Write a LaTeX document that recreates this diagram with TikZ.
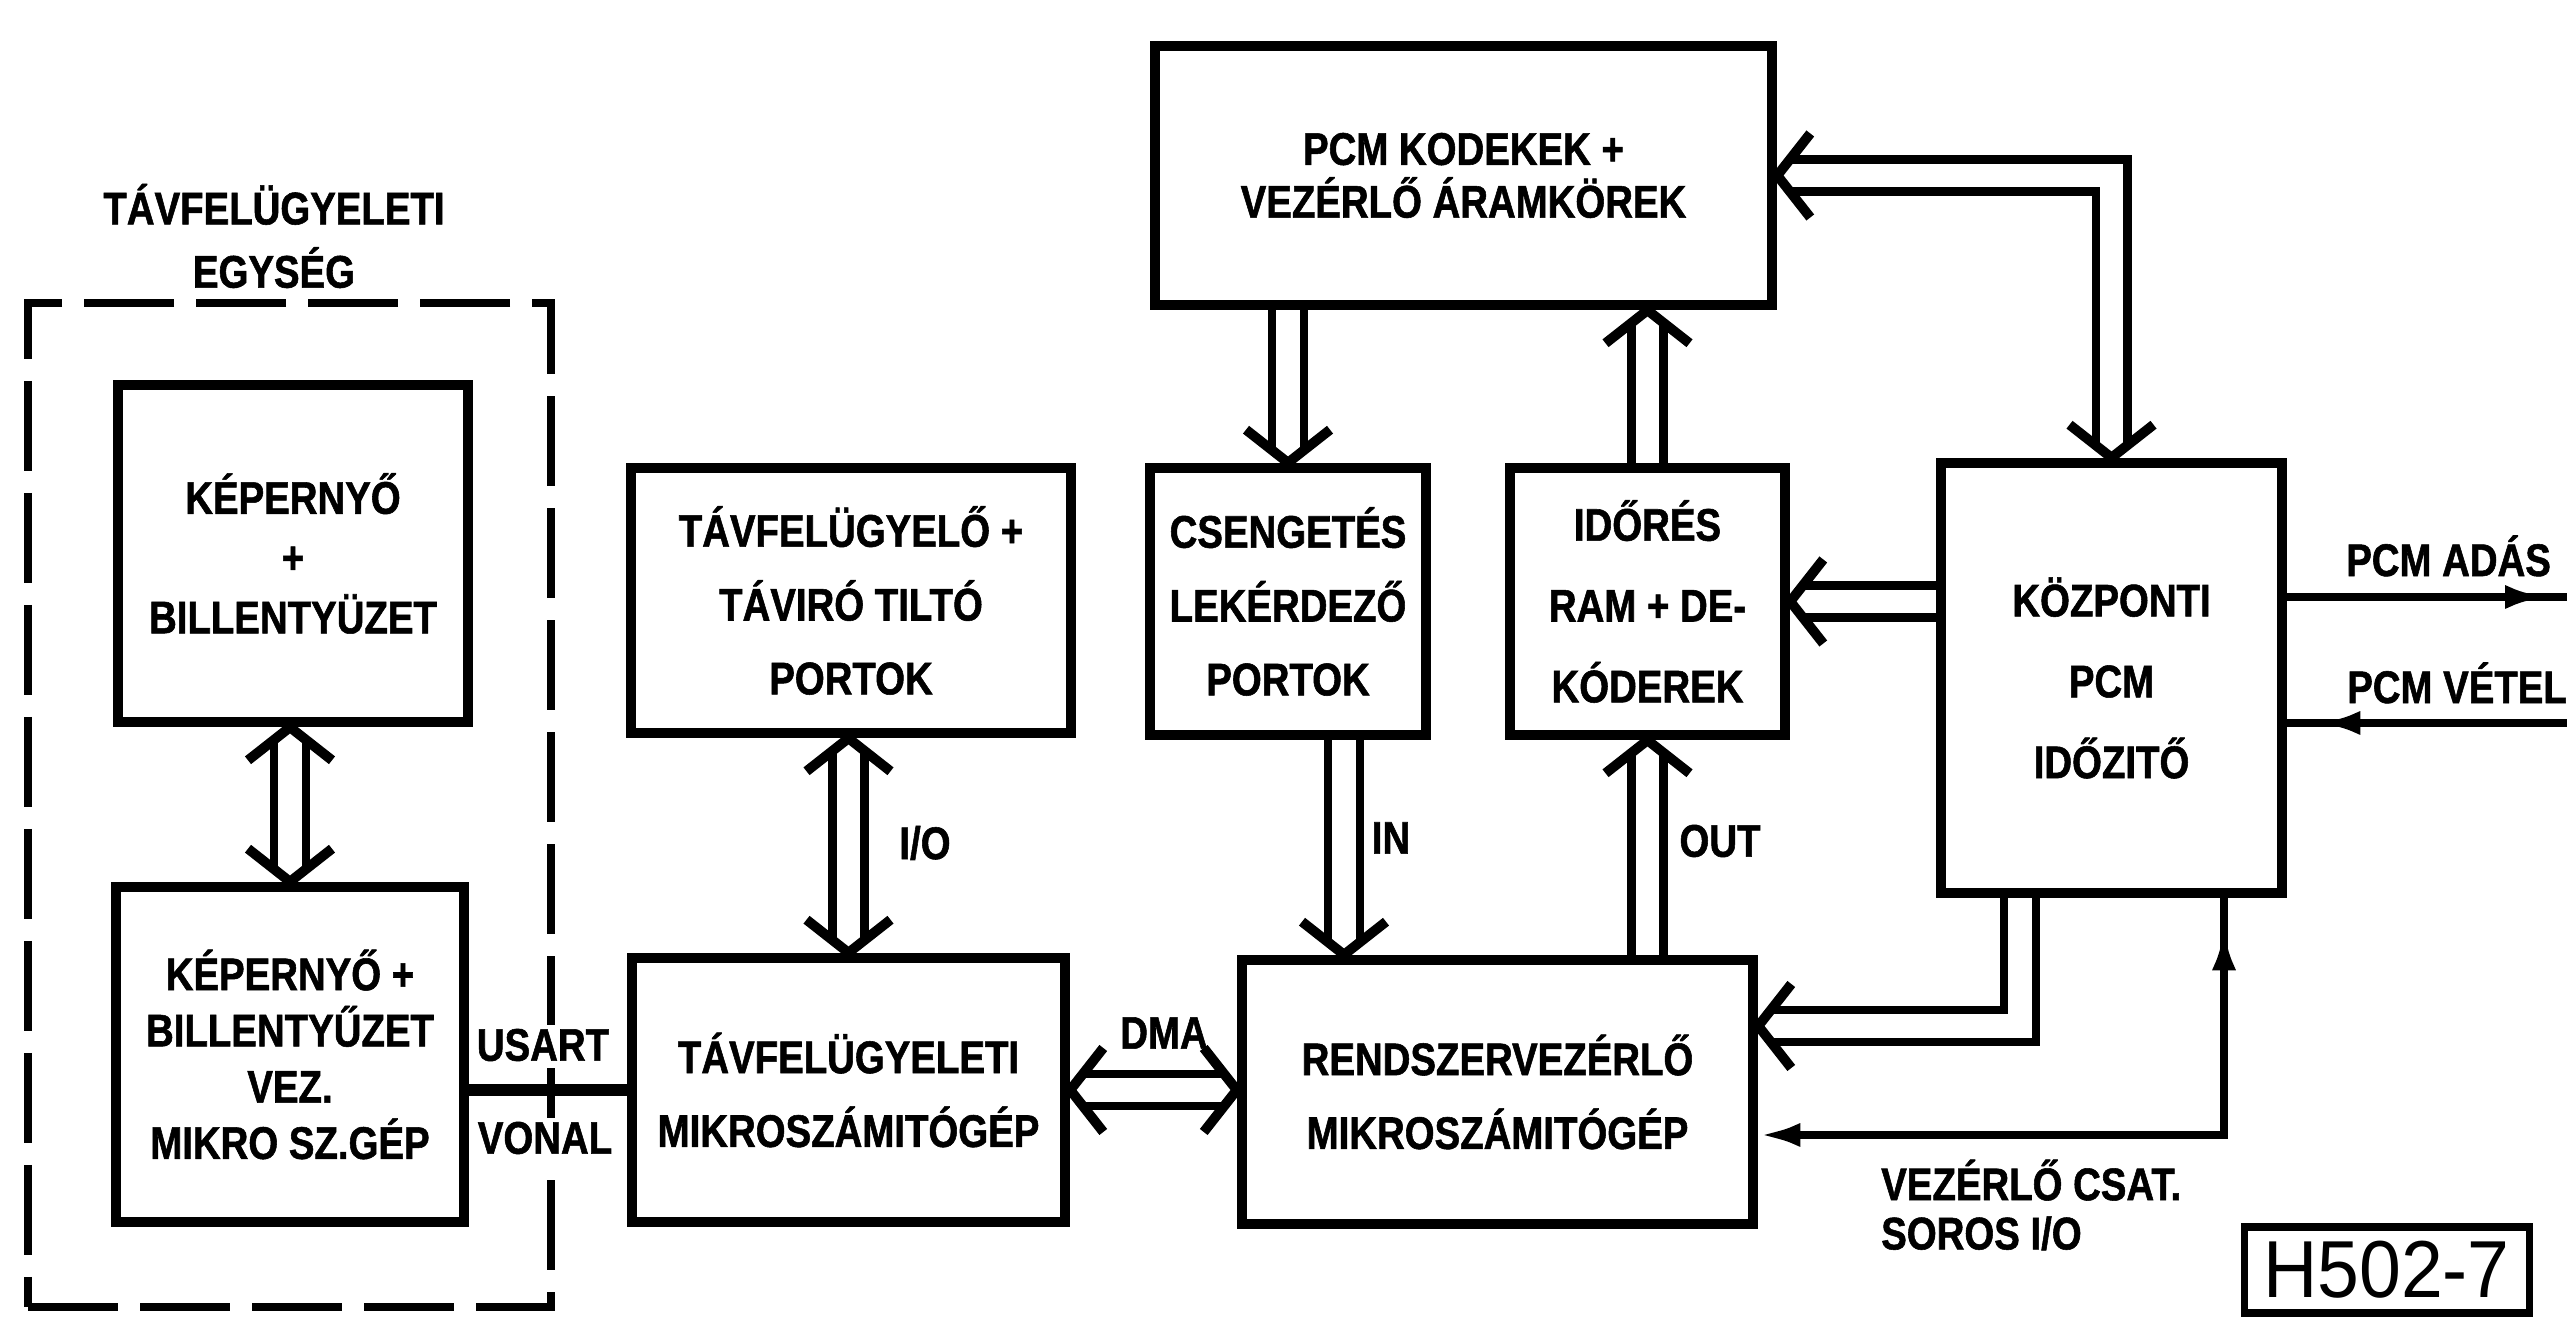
\documentclass[tikz,border=0pt]{standalone}
\usepackage{fontspec}
\setmainfont{Liberation Sans}[FakeStretch=0.84, BoldFeatures={FakeBold=1.2}]
\newfontfamily\tagfont{Liberation Sans}[FakeStretch=0.93]
\usetikzlibrary{positioning,arrows.meta,decorations.markings}

\tikzset{
  blokk/.style={draw, line width=3pt, align=center, inner sep=0pt,
    font=\bfseries\fontsize{13}{#1}\selectfont},
  blokk/.default=21pt,
  felirat/.style={align=center, inner sep=1pt,
    font=\bfseries\fontsize{13}{#1}\selectfont},
  felirat/.default=18pt,
  keret/.style={draw, line width=2.4pt, dash pattern=on 0.9cm off 0.22cm},
  busz/.style={double, line width=2.3pt, double distance=6.8pt},
  horog/.style={line width=2.8pt, shorten >=0pt, shorten <=0pt},
  vegen/.style={shorten >=0.13cm, postaction={decorate, decoration={markings,
      mark=at position 1 with {\draw[horog] (-0.33,0.42) -- (0,0) -- (-0.33,-0.42);}}}},
  elejen/.style={shorten <=0.13cm, postaction={decorate, decoration={markings,
      mark=at position 0 with {\draw[horog] (0.33,0.42) -- (0,0) -- (0.33,-0.42);}}}},
  jel/.style={line width=2.3pt},
  jelhegy/.style={postaction={decorate, decoration={markings,
      mark=at position #1 with {\arrow{Latex[length=0.42cm, width=0.24cm]}}}}},
  jelhegyvissza/.style={postaction={decorate, decoration={markings,
      mark=at position #1 with {\arrowreversed{Latex[length=0.42cm, width=0.24cm]}}}}},
}

\begin{document}
\begin{tikzpicture}
  \useasboundingbox (0,0) rectangle (25.67,13.2);

  % Remote supervision unit
  \node[keret, minimum width=5.23cm, minimum height=10.04cm] (egyseg) at (2.895,5.15) {};
  \node[felirat] (egysegcim) at (2.74,10.84) {TÁVFELÜGYELETI\\EGYSÉG};

  % Blocks
  \node[blokk=17pt, minimum width=3.50cm, minimum height=3.37cm] (kep) at (2.93,7.665) {KÉPERNYŐ\\+\\BILLENTYÜZET};
  \node[blokk=16pt, minimum width=3.48cm, minimum height=3.35cm] (kepvez) at (2.90,2.655) {KÉPERNYŐ +\\BILLENTYŰZET\\VEZ.\\MIKRO SZ.GÉP};
  \node[blokk, minimum width=4.40cm, minimum height=2.65cm] (tavport) at (8.51,7.195) {TÁVFELÜGYELŐ +\\TÁVIRÓ TILTÓ\\PORTOK};
  \node[blokk, minimum width=4.33cm, minimum height=2.64cm] (tavmikro) at (8.485,2.30) {TÁVFELÜGYELETI\\MIKROSZÁMITÓGÉP};
  \node[blokk, minimum width=2.76cm, minimum height=2.67cm] (cseng) at (12.88,7.185) {CSENGETÉS\\LEKÉRDEZŐ\\PORTOK};
  \node[blokk=23pt, minimum width=2.75cm, minimum height=2.67cm] (idores) at (16.475,7.185) {IDŐRÉS\\RAM + DE-\\KÓDEREK};
  \node[blokk=15pt, minimum width=6.17cm, minimum height=2.59cm] (pcm) at (14.635,11.445) {PCM KODEKEK +\\VEZÉRLŐ ÁRAMKÖREK};
  \node[blokk=23pt, minimum width=3.41cm, minimum height=4.30cm] (kozp) at (21.115,6.42) {KÖZPONTI\\PCM\\IDŐZITŐ};
  \node[blokk, minimum width=5.11cm, minimum height=2.64cm] (rendszer) at (14.975,2.28) {RENDSZERVEZÉRLŐ\\MIKROSZÁMITÓGÉP};

  % Labels
  \node[felirat, fill=white] (usart) at (5.43,2.75) {USART};
  \node[felirat, fill=white] (vonal) at (5.45,1.82) {VONAL};
  \node[felirat] (io) at (9.25,4.77) {I/O};
  \node[felirat] (be) at (13.91,4.82) {IN};
  \node[felirat] (ki) at (17.20,4.79) {OUT};
  \node[felirat] (dma) at (11.64,2.87) {DMA};
  \node[felirat, anchor=west] (adas) at (23.42,7.64) {PCM ADÁS};
  \node[felirat, anchor=west] (vetel) at (23.43,6.37) {PCM VÉTEL};
  \node[felirat=14pt, align=left, anchor=west] (soros) at (18.77,1.15) {VEZÉRLŐ CSAT.\\SOROS I/O};
  \node[draw, line width=2pt, inner sep=0pt, minimum width=2.85cm, minimum height=0.86cm,
    font=\tagfont\fontsize{23}{23}\selectfont] (jelzet) at (23.865,0.50) {H502-7};

  % Buses
  \draw[busz, vegen, elejen] (kepvez.north |- kep.south) -- (kepvez.north);
  \draw[busz, vegen, elejen] (tavmikro.north |- tavport.south) -- (tavmikro.north);
  \draw[busz, vegen] (cseng.north |- pcm.south) -- (cseng.north);
  \draw[busz, vegen] (idores.north) -- (idores.north |- pcm.south);
  \draw[busz, vegen] ([xshift=0.56cm]cseng.south) -- ([xshift=0.56cm]cseng.south |- rendszer.north);
  \draw[busz, vegen] (idores.south |- rendszer.north) -- (idores.south);
  \draw[busz, vegen, elejen] (tavmikro.east) -- (tavmikro.east -| rendszer.west);
  \draw[busz, vegen] (kozp.west |- idores.east) -- (idores.east);
  \draw[busz, vegen, elejen] (pcm.east) -| (kozp.north);
  \draw[busz, vegen] ([xshift=-0.915cm]kozp.south) |- ([yshift=0.66cm]rendszer.east);

  % Serial and PCM lines
  \coordinate (adasveg) at (25.67,7.23);
  \coordinate (vetelveg) at (25.67,5.97);
  \draw[line width=3.4pt] (kepvez.east |- tavmikro.west) -- (tavmikro.west);
  \draw[jel, jelhegyvissza=0.3cm, -{Latex[length=0.42cm, width=0.24cm]}] ([xshift=1.125cm]kozp.south) |- ([yshift=-0.43cm]rendszer.east);
  \draw[jel, jelhegy=-0.2cm] ([yshift=0.81cm]kozp.east) -- (adasveg);
  \draw[jel, jelhegy=-0.31cm] (vetelveg) -- ([yshift=-0.45cm]kozp.east);
\end{tikzpicture}
\end{document}
